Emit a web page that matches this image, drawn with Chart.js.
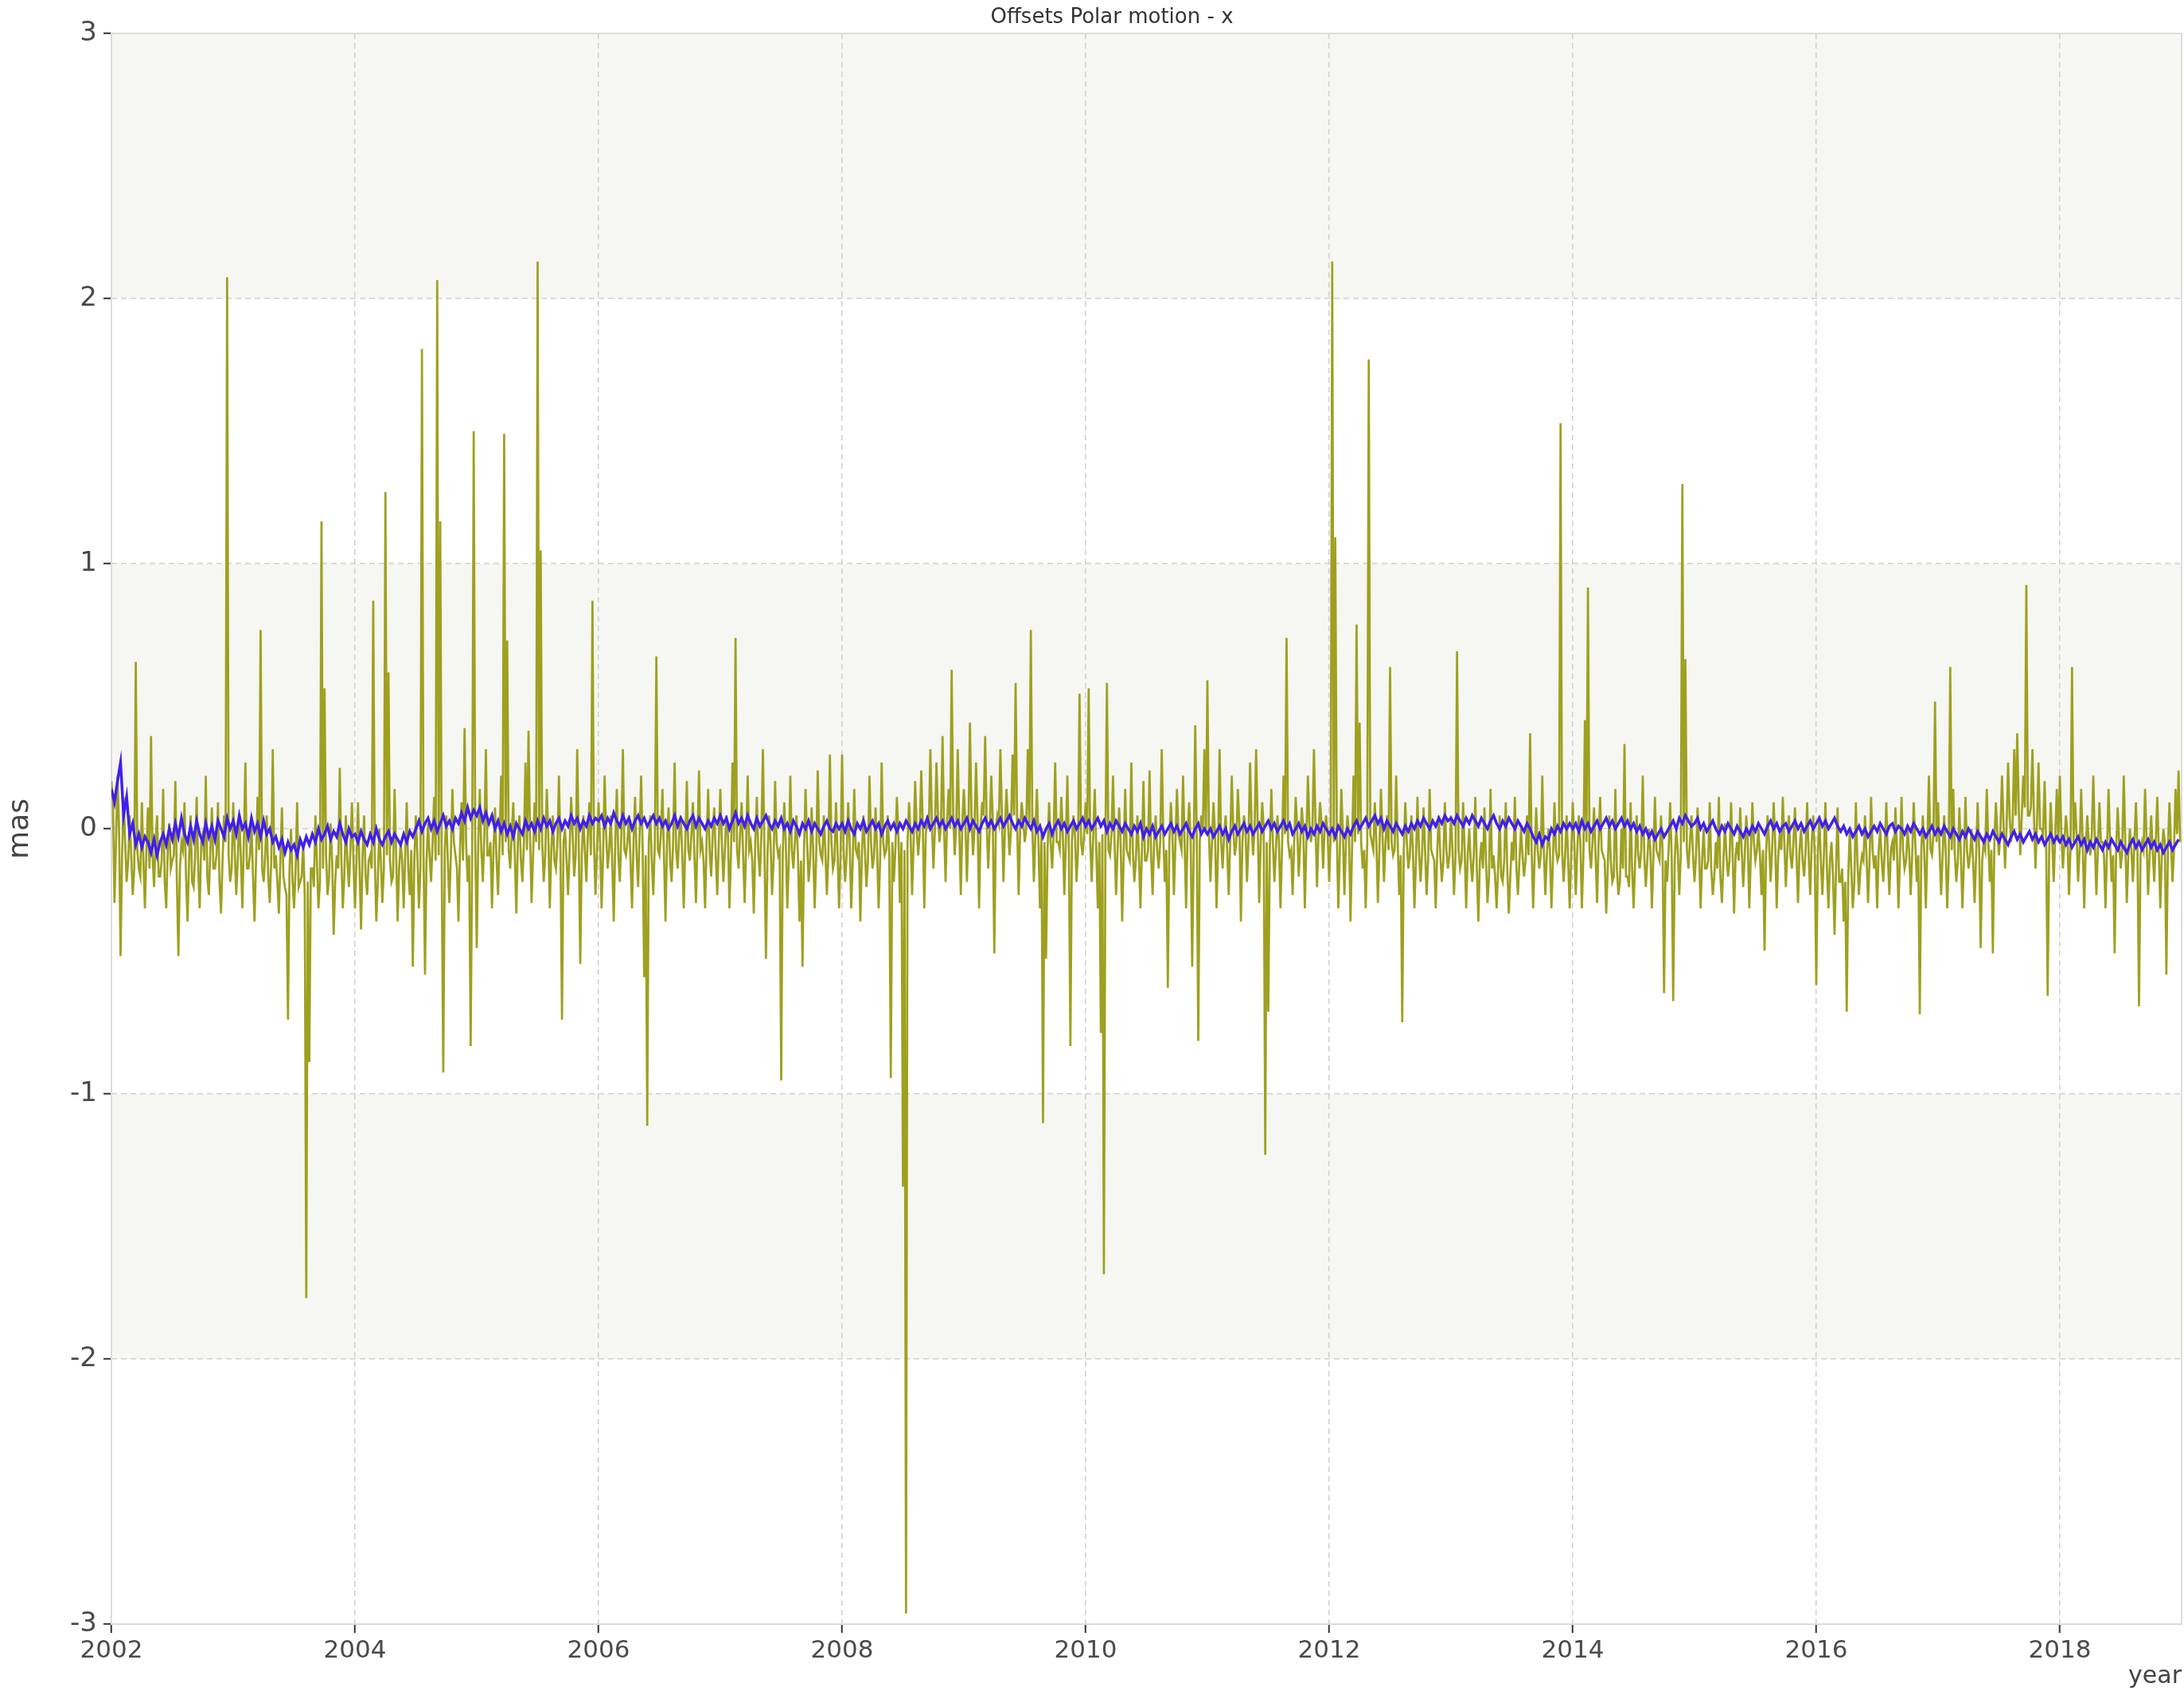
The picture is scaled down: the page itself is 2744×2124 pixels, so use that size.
<!DOCTYPE html>
<html><head><meta charset="utf-8">
<script src="https://cdn.jsdelivr.net/npm/chart.js@4.4.1/dist/chart.umd.min.js"></script>
<style>html,body{margin:0;padding:0;background:#fff;}canvas{display:block;}</style>
</head><body>
<canvas id="c" width="2744" height="2124" style="width:2744px;height:2124px"></canvas>
<script>
const chartTitle = 'Offsets Polar motion - x';
const xTitle = 'year';
const yTitle = 'mas';
const years = [2002,2003,2004,2005,2006,2007,2008,2009,2010,2011,2012,2013,2014,2015,2016,2017,2018];
const xTickLabels = ['2002','2004','2006','2008','2010','2012','2014','2016','2018'];
const yTickLabels = ['-3','-2','-1','0','1','2','3'];

// olive series: readings spread evenly through each year
const olive2002 = [0.18,0.1,-0.28,-0.05,0.2,0.0,-0.48,-0.1,0.12,-0.05,
 -0.2,-0.12,0.05,-0.1,-0.25,-0.15,0.63,-0.08,-0.15,-0.18,
 0.1,-0.12,-0.3,-0.08,0.08,-0.15,0.35,-0.1,-0.22,-0.05,
 0.05,-0.18,-0.18,-0.12,0.15,-0.2,-0.3,-0.08,0.02,-0.15,
 -0.12,-0.1,0.18,-0.2,-0.48,-0.15,-0.05,-0.08,0.1,-0.18,
 -0.35,-0.12,0.05,-0.2,-0.22,-0.1,0.12,-0.15,-0.3,-0.05,
 -0.02,-0.12,0.2,-0.18,-0.25,-0.08,0.08,-0.15,-0.15,-0.1,
 0.1,-0.2,-0.32,-0.12,0.05,-0.05,2.08,-0.1,-0.2,-0.15];
const olive2003 = [0.1,-0.08,-0.25,-0.12,0.05,-0.1,-0.3,-0.05,0.25,-0.15,
 -0.15,-0.1,0.02,-0.18,-0.35,-0.12,0.12,-0.08,0.75,-0.15,
 -0.2,-0.1,0.05,-0.18,-0.28,-0.12,0.3,-0.15,-0.1,-0.2,
 -0.32,-0.12,0.08,-0.18,-0.22,-0.25,-0.72,-0.15,0.0,-0.2,
 -0.3,-0.15,0.1,-0.22,-0.2,-0.18,-0.05,-0.25,-1.77,-0.2,
 -0.88,-0.15,-0.15,-0.22,0.05,-0.12,-0.3,-0.2,1.16,-0.15,
 0.53,-0.1,-0.25,-0.18,0.02,-0.12,-0.4,-0.2,-0.1,-0.15,
 0.23,-0.1,-0.3,-0.18,0.05,-0.12,-0.22,-0.08,0.1,-0.12];
const olive2004 = [-0.3,-0.12,0.1,-0.15,-0.38,-0.1,0.05,-0.18,-0.25,-0.12,
 -0.1,-0.15,0.86,-0.1,-0.35,-0.2,0.0,-0.12,-0.28,-0.15,
 1.27,-0.1,0.59,-0.12,-0.2,-0.18,0.15,-0.08,-0.35,-0.15,
 -0.05,-0.12,-0.3,-0.1,0.1,-0.15,-0.25,-0.08,-0.52,-0.12,
 0.05,-0.1,-0.3,-0.15,1.81,-0.08,-0.55,-0.12,0.02,-0.1,
 -0.2,-0.05,0.12,-0.12,2.07,-0.1,1.16,-0.15,-0.92,-0.08,
 0.05,-0.12,-0.28,-0.1,0.15,-0.05,-0.1,-0.15,-0.35,-0.08,
 0.1,-0.12,0.38,-0.05,-0.2,-0.1,-0.82,-0.08,1.50,-0.05];
const olive2005 = [-0.45,-0.05,0.15,-0.08,-0.2,-0.02,0.3,-0.1,-0.1,-0.05,
 -0.3,-0.08,0.08,-0.12,-0.25,-0.05,0.2,-0.1,1.49,-0.05,
 0.71,-0.08,-0.15,-0.02,0.1,-0.1,-0.32,-0.05,0.05,-0.12,
 -0.2,-0.05,0.25,-0.08,0.37,-0.02,-0.28,-0.1,0.1,-0.05,
 2.14,-0.08,1.05,-0.05,-0.2,-0.1,0.15,-0.02,-0.3,-0.08,
 0.05,-0.12,-0.15,-0.05,0.2,-0.1,-0.72,-0.05,0.0,-0.12,
 -0.25,-0.08,0.12,-0.02,-0.18,-0.1,0.3,-0.05,-0.51,-0.1,
 0.05,-0.08,-0.2,-0.02,0.1,-0.1,0.86,-0.05,-0.25,-0.08];
const olive2006 = [0.1,-0.05,-0.3,-0.1,0.2,-0.02,-0.15,-0.08,0.05,-0.12,
 -0.35,-0.05,0.15,-0.1,-0.2,-0.02,0.3,-0.08,-0.1,-0.05,
 0.05,-0.12,-0.3,-0.05,0.12,-0.1,-0.22,-0.02,0.2,-0.08,
 -0.56,-0.1,-1.12,-0.05,0.05,-0.12,-0.25,-0.05,0.65,-0.08,
 -0.1,-0.02,0.15,-0.1,-0.35,-0.05,0.08,-0.12,-0.2,-0.05,
 0.25,-0.08,-0.15,-0.02,0.05,-0.1,-0.3,-0.05,0.18,-0.08,
 -0.12,-0.02,0.1,-0.1,-0.28,-0.05,0.22,-0.08,-0.05,-0.12,
 -0.3,-0.05,0.15,-0.08,-0.18,-0.02,0.08,-0.1,-0.25,-0.05];
const olive2007 = [0.15,-0.05,-0.2,-0.08,0.05,-0.02,-0.3,-0.1,0.25,-0.05,
 0.72,-0.08,-0.15,-0.02,0.1,-0.1,-0.28,-0.05,0.2,-0.08,
 -0.05,-0.12,-0.32,-0.05,0.12,-0.1,-0.18,-0.02,0.3,-0.08,
 -0.49,-0.1,0.05,-0.05,-0.25,-0.12,0.18,-0.05,-0.1,-0.08,
 -0.95,-0.1,0.1,-0.05,-0.3,-0.12,0.2,-0.08,-0.15,-0.05,
 0.05,-0.1,-0.35,-0.12,-0.52,-0.08,0.15,-0.05,-0.2,-0.12,
 0.08,-0.08,-0.3,-0.1,0.22,-0.05,-0.1,-0.12,0.05,-0.08,
 -0.25,-0.1,0.28,-0.05,-0.15,-0.12,0.1,-0.08,-0.3,-0.1];
const olive2008 = [0.28,-0.08,-0.2,-0.1,0.1,-0.05,-0.3,-0.12,0.15,-0.08,
 -0.1,-0.05,-0.35,-0.1,0.05,-0.08,-0.22,-0.12,0.2,-0.05,
 -0.15,-0.1,0.08,-0.08,-0.3,-0.12,0.25,-0.05,-0.1,-0.08,
 0.05,-0.1,-0.94,-0.05,-0.2,-0.08,0.12,-0.02,-0.28,-0.05,
 -1.35,-0.08,-2.96,-0.05,0.1,-0.02,-0.25,-0.05,0.18,0.0,
 -0.1,-0.02,0.22,0.02,-0.3,-0.02,0.05,0.0,0.3,0.02,
 -0.15,0.0,0.25,0.05,-0.05,0.02,0.35,0.0,-0.2,0.03,
 0.15,0.0,0.6,0.05,-0.1,0.02,0.3,0.0,-0.25,0.02];
const olive2009 = [0.15,0.02,-0.2,0.0,0.4,0.05,-0.1,0.0,0.25,0.03,
 -0.3,0.0,0.1,0.05,0.35,0.02,-0.15,0.0,0.2,0.03,
 -0.47,0.0,0.05,0.02,0.3,0.05,-0.2,0.0,0.15,0.02,
 -0.1,0.0,0.28,0.05,0.55,0.02,-0.25,0.0,0.1,0.03,
 -0.05,0.0,0.3,0.02,0.75,0.0,-0.2,-0.02,0.15,-0.05,
 -0.3,-0.02,-1.11,-0.05,-0.49,-0.08,0.1,-0.05,-0.15,-0.02,
 0.25,-0.05,-0.05,-0.08,0.12,-0.02,-0.25,-0.05,0.2,-0.08,
 -0.82,-0.05,0.05,-0.02,-0.2,-0.08,0.51,-0.05,-0.1,-0.02];
const olive2010 = [0.1,-0.02,0.53,-0.05,-0.2,-0.02,0.15,-0.08,-0.3,-0.05,
 -0.77,-0.02,-1.68,-0.05,0.55,-0.08,-0.1,-0.02,0.2,-0.05,
 -0.25,-0.08,0.08,-0.05,-0.35,-0.1,0.15,-0.08,-0.1,-0.12,
 0.25,-0.08,-0.2,-0.12,0.05,-0.1,-0.3,-0.08,0.18,-0.12,
 -0.12,-0.08,0.22,-0.1,-0.25,-0.05,0.05,-0.08,-0.15,-0.05,
 0.3,-0.02,-0.2,-0.08,-0.6,-0.05,0.1,-0.02,-0.25,-0.05,
 0.15,-0.02,-0.05,-0.08,0.2,-0.05,-0.3,-0.02,0.1,-0.05,
 -0.52,-0.08,0.39,-0.02,-0.8,-0.05,0.05,0.0,0.3,-0.02];
const olive2011 = [0.56,-0.02,-0.2,-0.05,0.1,-0.02,-0.3,-0.08,0.3,-0.05,
 -0.15,-0.02,0.05,-0.08,-0.25,-0.05,0.2,0.0,-0.1,-0.05,
 0.15,0.02,-0.35,-0.05,0.05,0.0,-0.2,-0.05,0.25,0.02,
 -0.1,0.0,0.3,0.02,-0.28,-0.05,0.1,0.0,-1.23,-0.05,
 -0.69,-0.08,0.15,-0.05,-0.2,-0.08,0.05,-0.05,-0.3,-0.08,
 0.2,-0.02,0.72,-0.05,-0.1,-0.08,-0.25,-0.05,0.12,0.0,
 -0.18,-0.05,0.08,0.0,-0.3,-0.05,0.2,0.02,-0.05,0.0,
 0.3,0.02,-0.22,-0.02,0.1,0.02,-0.15,0.0,0.05,-0.02];
const olive2012 = [-0.2,-0.02,2.14,-0.05,1.1,-0.02,-0.3,-0.08,0.15,-0.02,
 -0.25,-0.05,0.05,-0.02,-0.35,-0.08,0.2,-0.05,0.77,-0.02,
 0.4,-0.05,-0.15,-0.08,-0.3,-0.05,1.77,-0.02,-0.05,-0.08,
 0.1,-0.05,-0.28,-0.08,0.15,-0.02,-0.2,-0.05,0.05,-0.08,
 0.61,-0.05,-0.1,-0.08,0.2,-0.05,-0.25,-0.1,-0.73,-0.08,
 0.1,-0.05,-0.15,-0.1,0.05,-0.08,-0.3,-0.12,0.12,-0.08,
 -0.2,-0.1,0.08,-0.08,-0.25,-0.12,0.15,-0.08,-0.1,-0.12,
 -0.3,-0.08,0.05,-0.1,-0.2,-0.12,0.1,-0.08,-0.15,-0.1];
const olive2013 = [0.05,-0.08,-0.25,-0.1,0.67,-0.08,-0.15,-0.12,0.1,-0.08,
 -0.3,-0.1,0.0,-0.12,-0.2,-0.1,0.12,-0.15,-0.35,-0.12,
 -0.05,-0.15,0.08,-0.12,-0.28,-0.18,0.15,-0.15,-0.1,-0.18,
 -0.3,-0.15,0.05,-0.18,-0.2,-0.12,0.1,-0.15,-0.32,-0.18,
 -0.05,-0.12,0.12,-0.15,-0.25,-0.12,0.0,-0.1,-0.18,-0.12,
 0.05,-0.1,0.36,-0.08,-0.3,-0.1,0.08,-0.08,-0.15,-0.1,
 0.2,-0.08,-0.25,-0.1,0.0,-0.08,-0.3,-0.12,0.1,-0.08,
 -0.12,-0.1,1.53,-0.08,-0.2,-0.1,0.05,-0.12,-0.3,-0.1];
const olive2014 = [0.1,-0.05,-0.25,-0.08,0.05,-0.05,-0.3,-0.1,0.41,-0.05,
 0.91,-0.08,-0.15,-0.05,0.08,-0.1,-0.28,-0.05,0.12,-0.08,
 -0.1,-0.12,-0.32,-0.15,0.05,-0.12,-0.2,-0.18,0.15,-0.15,
 -0.25,-0.2,0.0,-0.15,0.32,-0.18,-0.18,-0.22,0.1,-0.15,
 -0.3,-0.12,0.05,-0.1,-0.15,-0.08,0.2,-0.1,-0.22,-0.12,
 0.0,-0.08,-0.3,-0.1,0.12,-0.08,-0.1,-0.12,0.05,-0.08,
 -0.62,-0.12,-0.2,-0.08,0.1,-0.1,-0.65,-0.12,0.0,-0.08,
 -0.25,-0.1,1.30,-0.05,0.64,-0.08,-0.15,-0.05,0.05,-0.1];
const olive2015 = [-0.2,-0.1,0.08,-0.08,-0.3,-0.12,0.0,-0.15,-0.15,-0.12,
 0.1,-0.15,-0.25,-0.18,-0.05,-0.15,0.12,-0.18,-0.28,-0.12,
 0.02,-0.1,-0.18,-0.12,0.1,-0.08,-0.32,-0.1,-0.05,-0.12,
 0.08,-0.08,-0.22,-0.1,0.05,-0.05,-0.3,-0.1,0.1,-0.05,
 -0.12,-0.08,0.0,-0.1,-0.25,-0.08,-0.46,-0.1,0.05,-0.05,
 -0.2,-0.08,0.1,-0.05,-0.3,-0.1,-0.02,-0.08,0.12,-0.05,
 -0.22,-0.08,0.05,-0.1,-0.15,-0.05,0.08,-0.1,-0.28,-0.08,
 0.0,-0.12,-0.18,-0.08,0.1,-0.1,-0.25,-0.05,0.05,-0.1];
const olive2016 = [-0.59,-0.1,0.05,-0.12,-0.25,-0.1,0.1,-0.15,-0.3,-0.12,
 -0.05,-0.18,-0.4,-0.15,0.08,-0.2,-0.2,-0.15,-0.35,-0.2,
 -0.69,-0.18,0.0,-0.15,-0.3,-0.2,0.1,-0.12,-0.25,-0.15,
 -0.1,-0.12,0.05,-0.1,-0.28,-0.12,0.12,-0.08,-0.15,-0.1,
 -0.3,-0.08,0.0,-0.12,-0.2,-0.08,0.1,-0.1,-0.25,-0.08,
 -0.05,-0.12,0.08,-0.08,-0.3,-0.1,0.12,-0.08,-0.15,-0.12,
 0.0,-0.08,-0.25,-0.1,0.1,-0.05,-0.2,-0.1,-0.70,-0.08,
 0.05,-0.1,-0.3,-0.05,0.2,-0.08,-0.1,-0.02,0.48,-0.05];
const olive2017 = [0.1,-0.08,-0.25,-0.1,0.05,-0.08,-0.3,-0.12,0.61,-0.08,
 0.15,-0.1,-0.2,-0.12,0.08,-0.1,-0.3,-0.12,0.12,-0.08,
 -0.15,-0.1,0.0,-0.12,-0.28,-0.1,0.1,-0.08,-0.45,-0.12,
 -0.05,-0.08,0.15,-0.05,-0.2,-0.08,-0.47,-0.05,0.1,-0.02,
 -0.1,0.0,0.2,0.02,-0.15,0.0,0.25,0.05,-0.05,0.02,
 0.3,0.05,0.36,0.08,-0.1,0.05,0.2,0.08,0.92,0.05,
 0.05,0.08,0.3,0.05,-0.15,0.02,0.25,0.0,0.0,-0.02,
 0.18,-0.05,-0.63,-0.08,0.1,-0.05,-0.2,-0.02,0.15,-0.05];
const olive2018 = [0.2,-0.02,-0.15,-0.05,0.05,-0.02,-0.25,-0.08,0.61,-0.05,
 0.1,-0.02,-0.2,-0.08,0.15,-0.05,-0.3,-0.08,0.05,-0.05,
 -0.1,-0.02,0.2,-0.05,-0.25,-0.08,0.1,-0.05,-0.05,-0.1,
 -0.3,-0.08,0.15,-0.05,-0.2,-0.1,-0.47,-0.08,0.08,-0.05,
 -0.15,-0.08,0.2,-0.05,-0.28,-0.1,0.0,-0.08,-0.2,-0.05,
 0.1,-0.08,-0.67,-0.1,-0.05,-0.08,0.15,-0.05,-0.25,-0.1,
 0.05,-0.08,-0.2,-0.05,0.12,-0.08,-0.3,-0.1,0.0,-0.05,
 -0.55,-0.08,0.1,-0.05,-0.2,-0.08,0.15,-0.02,0.22,-0.05];

// blue series: readings spread evenly through each year
const blue2002 = [0.15,0.1,0.18,0.25,0.05,0.12,-0.02,0.02,-0.06,-0.02, -0.07,-0.03,-0.05,-0.09,-0.04,-0.1,-0.05,-0.02,-0.06,0.0, -0.04,0.02,-0.03,0.04,-0.02,-0.05,0.01,-0.04,0.03,-0.02, -0.05,0.02,-0.03,0.01,-0.04,0.03,0.0,-0.03,0.04,0.0];
const blue2003 = [0.03,-0.02,0.05,0.0,0.02,-0.03,0.04,-0.01,0.02,-0.03, 0.03,-0.02,0.0,-0.05,-0.03,-0.07,-0.04,-0.09,-0.05,-0.08, -0.06,-0.1,-0.04,-0.07,-0.03,-0.06,-0.02,-0.05,0.0,-0.04, -0.02,0.01,-0.04,-0.01,-0.03,0.02,-0.02,-0.05,0.0,-0.03];
const blue2004 = [-0.02,-0.05,-0.01,-0.04,-0.06,-0.02,-0.05,0.0,-0.04,-0.06, -0.03,-0.01,-0.05,-0.02,-0.04,-0.06,-0.02,-0.05,-0.01,-0.03, 0.0,0.03,-0.01,0.02,0.04,0.0,0.03,-0.01,0.02,0.05, 0.01,0.03,0.0,0.04,0.02,0.06,0.03,0.08,0.04,0.07];
const blue2005 = [0.05,0.08,0.03,0.06,0.02,0.05,0.0,0.03,-0.01,0.02, -0.02,0.01,-0.03,0.02,0.0,-0.02,0.03,0.0,0.02,-0.01, 0.03,0.0,0.04,0.01,0.03,-0.01,0.02,0.04,0.0,0.03, 0.01,0.05,0.02,0.04,0.0,0.03,0.01,0.05,0.02,0.04];
const blue2006 = [0.03,0.05,0.01,0.04,0.02,0.06,0.03,0.01,0.05,0.02, 0.04,0.0,0.03,0.05,0.02,0.04,0.01,0.03,0.05,0.02, 0.04,0.01,0.03,0.0,0.02,0.05,0.01,0.04,0.02,0.0, 0.03,0.05,0.01,0.04,0.02,0.0,0.03,0.01,0.04,0.02];
const blue2007 = [0.05,0.02,0.04,0.0,0.03,0.06,0.02,0.04,0.01,0.05, 0.02,0.0,0.04,0.01,0.03,0.05,0.02,0.0,0.03,0.01, 0.04,0.0,0.02,-0.01,0.03,0.01,-0.02,0.02,0.0,0.03, -0.01,0.02,0.0,-0.02,0.01,0.03,0.0,-0.01,0.02,0.0];
const blue2008 = [0.02,-0.01,0.03,0.0,-0.02,0.02,0.0,0.03,-0.01,0.01, 0.03,0.0,0.02,-0.02,0.01,0.03,0.0,0.02,-0.01,0.02, 0.0,0.03,0.01,-0.01,0.02,0.0,0.03,0.01,0.04,0.0, 0.02,0.04,0.01,0.03,0.0,0.02,0.04,0.01,0.03,0.0];
const blue2009 = [0.02,0.04,0.0,0.03,0.01,-0.01,0.02,0.04,0.01,0.03, 0.0,0.02,0.04,0.01,0.03,0.05,0.02,0.0,0.03,0.01, 0.04,0.02,0.0,0.03,-0.01,0.01,-0.03,0.0,0.02,-0.02, 0.01,0.03,0.0,0.02,-0.01,0.01,0.03,0.0,0.02,0.04];
const blue2010 = [0.01,0.03,0.0,0.02,0.04,0.01,0.03,-0.01,0.02,0.0, 0.03,0.01,-0.01,0.02,0.0,-0.02,0.01,-0.01,0.02,-0.03, 0.0,-0.02,0.01,-0.03,-0.01,0.01,-0.02,0.0,0.02,-0.01, 0.01,-0.02,0.0,0.02,-0.01,-0.03,0.0,0.02,-0.02,0.0];
const blue2011 = [-0.02,0.0,-0.03,-0.01,0.01,-0.02,0.0,-0.04,-0.01,0.01, -0.02,0.0,0.02,-0.01,0.01,-0.02,0.0,0.02,-0.01,0.01, 0.03,0.0,0.02,-0.01,0.01,0.03,0.0,0.02,-0.02,0.0, 0.02,-0.01,0.01,-0.03,0.0,-0.02,0.01,-0.01,0.02,0.0];
const blue2012 = [-0.02,0.0,-0.03,0.01,-0.01,-0.03,0.0,-0.02,0.01,0.03, 0.0,0.02,0.04,0.01,0.03,0.05,0.02,0.04,0.0,0.03, 0.01,-0.01,0.02,0.0,-0.02,0.01,-0.01,0.02,0.0,0.03, 0.01,0.04,0.02,0.0,0.03,0.01,0.04,0.02,0.05,0.03];
const blue2013 = [0.04,0.02,0.05,0.03,0.01,0.04,0.02,0.05,0.03,0.01, 0.04,0.02,0.0,0.03,0.05,0.02,0.0,0.03,0.01,0.04, 0.02,0.0,0.03,0.01,-0.01,0.02,0.0,-0.03,-0.05,-0.02, -0.06,-0.03,-0.04,0.0,-0.02,0.01,-0.01,0.02,0.0,0.02];
const blue2014 = [0.0,0.02,-0.01,0.03,0.0,0.02,-0.01,0.01,0.03,0.0, 0.02,0.04,0.01,0.03,0.0,0.02,0.04,0.01,0.03,0.0, 0.02,-0.01,0.01,-0.02,0.0,-0.03,-0.01,-0.04,-0.02,0.0, -0.03,-0.01,0.01,0.03,0.0,0.04,0.02,0.05,0.03,0.01];
const blue2015 = [0.02,0.04,0.0,0.02,-0.01,0.01,0.03,0.0,-0.02,0.01, -0.01,0.02,0.0,-0.02,0.01,-0.01,-0.03,0.0,-0.02,0.01, -0.01,0.02,0.0,-0.02,0.01,0.03,0.0,0.02,-0.01,0.01, 0.02,-0.01,0.01,0.03,0.0,0.02,-0.01,0.01,0.03,0.0];
const blue2016 = [0.02,0.04,0.01,0.03,0.0,0.02,0.04,0.01,-0.01,0.01, -0.02,0.0,-0.03,-0.01,0.01,-0.02,0.0,-0.03,-0.01,0.01, -0.01,0.02,0.0,-0.02,0.01,0.02,-0.01,0.01,0.0,-0.02, 0.01,-0.01,0.02,0.0,-0.02,0.0,-0.03,-0.01,0.01,-0.02];
const blue2017 = [0.0,-0.02,0.01,-0.01,-0.03,0.0,-0.02,-0.04,-0.01,-0.03, 0.0,-0.02,-0.04,-0.01,-0.03,-0.05,-0.02,-0.04,-0.01,-0.03, -0.05,-0.02,-0.04,-0.06,-0.03,-0.01,-0.04,-0.02,-0.05,-0.03, -0.01,-0.04,-0.02,-0.05,-0.03,-0.06,-0.04,-0.02,-0.05,-0.03];
const blue2018 = [-0.05,-0.03,-0.06,-0.04,-0.07,-0.05,-0.03,-0.06,-0.04,-0.08, -0.05,-0.07,-0.04,-0.06,-0.08,-0.05,-0.07,-0.04,-0.06,-0.08, -0.05,-0.07,-0.09,-0.06,-0.04,-0.07,-0.05,-0.08,-0.06,-0.04, -0.07,-0.05,-0.08,-0.06,-0.09,-0.07,-0.05,-0.08,-0.06,-0.04];

const oliveByYear = [olive2002,olive2003,olive2004,olive2005,olive2006,olive2007,olive2008,olive2009,olive2010,olive2011,olive2012,olive2013,olive2014,olive2015,olive2016,olive2017,olive2018];
const blueByYear = [blue2002,blue2003,blue2004,blue2005,blue2006,blue2007,blue2008,blue2009,blue2010,blue2011,blue2012,blue2013,blue2014,blue2015,blue2016,blue2017,blue2018];

function toPoints(byYear) {
  const pts = [];
  byYear.forEach((vals, k) => {
    vals.forEach((v, j) => pts.push({x: years[k] + j / vals.length, y: v}));
  });
  return pts;
}

const FONT = '"DejaVu Sans", Verdana, sans-serif';
const bandColor = '#f6f6f2';

const bandsPlugin = {
  id: 'bands',
  beforeDraw(chart) {
    const {ctx, chartArea: a, scales: {y}} = chart;
    ctx.save();
    ctx.fillStyle = bandColor;
    [[2,3],[0,1],[-2,-1]].forEach(([lo, hi]) => {
      const t = y.getPixelForValue(hi), b = y.getPixelForValue(lo);
      ctx.fillRect(a.left, t, a.right - a.left, b - t);
    });
    ctx.restore();
  },
  beforeDatasetsDraw(chart) {
    const {ctx, chartArea: a} = chart;
    ctx.save();
    ctx.strokeStyle = '#dcdcdc';
    ctx.lineWidth = 2;
    ctx.strokeRect(a.left, a.top, a.right - a.left, a.bottom - a.top);
    ctx.restore();
  },
  afterDraw(chart) {
    const {ctx} = chart;
    ctx.save();
    ctx.font = '26px ' + FONT;
    ctx.fillStyle = '#333';
    ctx.textAlign = 'center';
    ctx.textBaseline = 'middle';
    ctx.fillText(chartTitle, 1397, 22);
    ctx.restore();
  }
};

new Chart(document.getElementById('c'), {
  type: 'line',
  data: {
    datasets: [
      {label: 'blue', data: toPoints(blueByYear), borderColor: '#4020eb', borderWidth: 3.5, pointRadius: 0, tension: 0},
      {label: 'olive', data: toPoints(oliveByYear), borderColor: '#9ea020', borderWidth: 2.7, pointRadius: 0, tension: 0}
    ]
  },
  options: {
    responsive: false,
    animation: false,
    devicePixelRatio: 1,
    parsing: false,
    normalized: true,
    layout: {padding: {top: 42, right: 3, left: 0, bottom: 0}},
    plugins: {legend: {display: false}, tooltip: {enabled: false}, title: {display: false}},
    scales: {
      x: {
        type: 'linear', position: 'bottom', min: 2002, max: 2019,
        afterBuildTicks: s => { s.ticks = xTickLabels.map(l => ({value: Number(l)})); },
        afterFit: s => { s.height = 84; },
        ticks: {stepSize: 2, autoSkip: false, maxRotation: 0, padding: 4, color: '#4a4a4a', font: {family: FONT, size: 31},
                callback: v => String(v)},
        grid: {color: '#cfcfcf', lineWidth: 1.5, tickLength: 11, tickColor: '#333', tickWidth: 2, tickBorderDash: []},
        border: {display: false, dash: [7, 5]},
        title: {display: true, text: xTitle, align: 'end', color: '#444', font: {family: FONT, size: 30}, padding: {top: 0, bottom: 0}}
      },
      y: {
        type: 'linear', min: -3, max: 3,
        afterBuildTicks: s => { s.ticks = yTickLabels.map(l => ({value: Number(l)})); },
        afterFit: s => { s.width = 140; },
        ticks: {stepSize: 1, autoSkip: false, padding: 8, color: '#4a4a4a', font: {family: FONT, size: 34},
                callback: v => String(v)},
        grid: {color: '#cfcfcf', lineWidth: 1.5, tickLength: 10, tickColor: '#333', tickWidth: 2, tickBorderDash: []},
        border: {display: false, dash: [7, 5]},
        title: {display: true, text: yTitle, color: '#444', font: {family: FONT, size: 36}, padding: {top: 4, bottom: 0}}
      }
    }
  },
  plugins: [bandsPlugin]
});
</script>
</body></html>
